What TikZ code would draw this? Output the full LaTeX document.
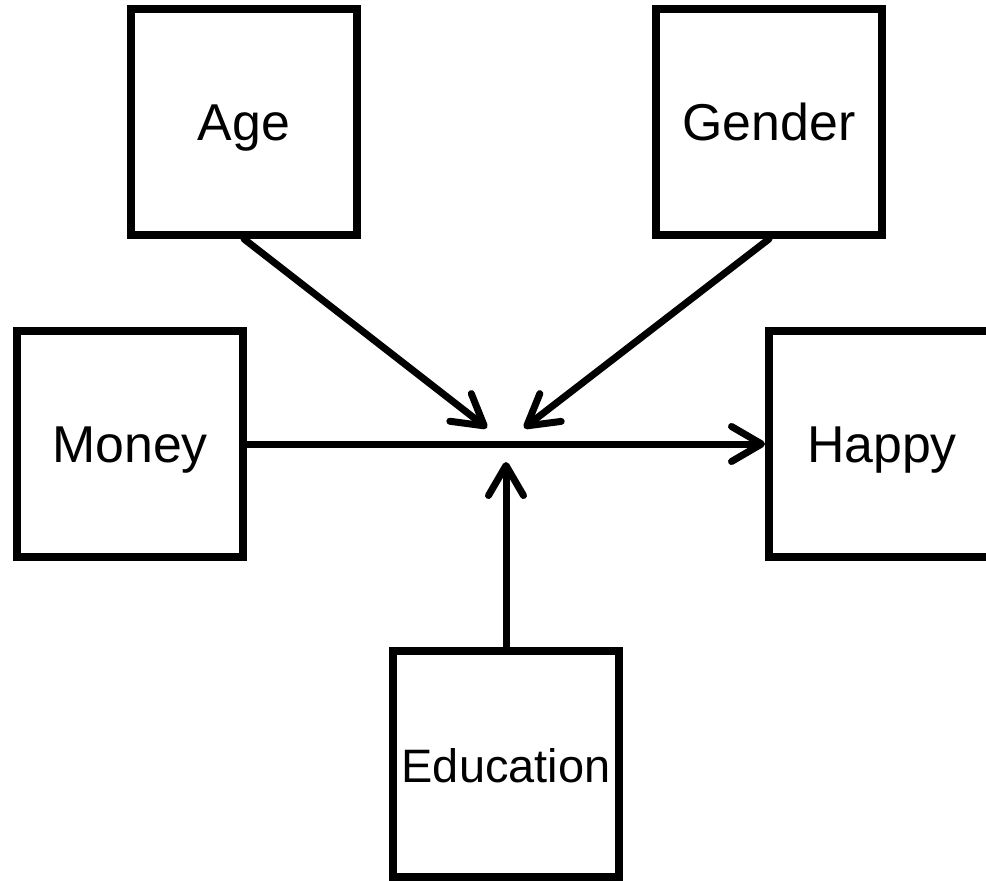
\documentclass[tikz,border=0pt]{standalone}
\usepackage{fontspec}
\setmainfont{Liberation Sans}
\usetikzlibrary{arrows.meta}
\tikzset{
	factor/.style={
			draw, line width=0.16cm, minimum size=4.52cm, inner sep=0pt,
			text height=21pt, text depth=0pt,
			font=\fontsize{29.5}{35}\selectfont
		},
	effect/.style={
			line width=0.14cm, line cap=round,
			-{Straight Barb[length=0.6cm, width=0.7cm, round]}
		}
}

\begin{document}
\begin{tikzpicture}[x=0.02cm, y=-0.02cm]
			\useasboundingbox (0, 0) rectangle (986, 881);

			\node[factor] (age)	at (244, 122) {Age};
			\node[factor] (gender)	at (769, 122) {Gender};
			\node[factor] (money)	at (130, 444) {Money};
			\node[factor] (happy)	at (882, 444) {Happy};
			\node[factor, font=\fontsize{26.7}{32}\selectfont] (education)	at (506, 764) {Education};

			\coordinate (ageend)	at (487, 428);
			\coordinate (genderend)	at (524, 428);
			\coordinate (eduend)	at (506, 462);

			\draw[effect]	(money.east) to (happy.west);
			\draw[effect]	(age.south) to (ageend);
			\draw[effect]	(gender.south) to (genderend);
			\draw[effect]	(education.north) to (eduend);
		\end{tikzpicture}
\end{document}
